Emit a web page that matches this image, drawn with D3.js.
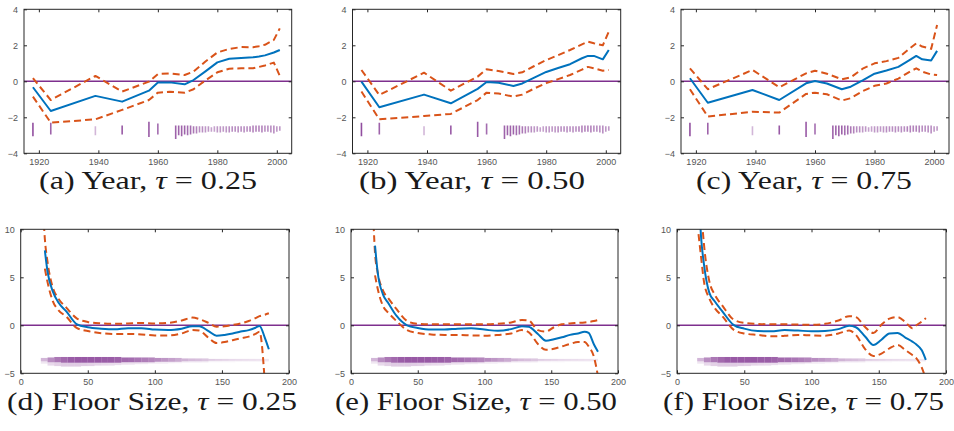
<!DOCTYPE html>
<html>
<head>
<meta charset="utf-8">
<script src="https://cdn.jsdelivr.net/npm/d3@7"></script>
<style>
  body { margin: 0; background: #fff; }
  svg { display: block; }
</style>
</head>
<body>
<div id="fig"></div>
<script>
// ---- data: year panels (a)-(c) ----
const yearX = [1918, 1924, 1939, 1948, 1957, 1960, 1964, 1969, 1972, 1976, 1980, 1984, 1988, 1992, 1994, 1996, 1999, 2001];
const fitA = [-0.33, -1.65, -0.81, -1.13, -0.52, -0.07, -0.06, -0.17, 0.07, 0.55, 1.05, 1.25, 1.3, 1.33, 1.38, 1.44, 1.6, 1.74];
const hiA  = [0.17, -1.04, 0.3, -0.57, -0.02, 0.4, 0.44, 0.35, 0.54, 1.1, 1.6, 1.8, 1.9, 1.89, 1.95, 2.03, 2.3, 2.94];
const loA  = [-0.85, -2.3, -2.11, -1.59, -1.04, -0.63, -0.58, -0.63, -0.44, 0.05, 0.5, 0.7, 0.72, 0.72, 0.8, 0.88, 1.04, 0.3];
const fitB = [-0.02, -1.44, -0.74, -1.22, -0.42, -0.04, -0.08, -0.26, -0.12, 0.2, 0.52, 0.74, 0.95, 1.28, 1.41, 1.41, 1.22, 1.74];
const hiB  = [0.63, -0.76, 0.48, -0.52, 0.26, 0.67, 0.57, 0.41, 0.5, 0.85, 1.18, 1.45, 1.74, 2.05, 2.2, 2.11, 2.0, 2.76];
const loB  = [-0.57, -2.11, -1.93, -1.81, -1.04, -0.63, -0.68, -0.85, -0.74, -0.4, -0.1, 0.12, 0.35, 0.65, 0.8, 0.72, 0.59, 0.63];
const fitC = [0.17, -1.19, -0.48, -1.04, -0.11, 0.02, -0.12, -0.44, -0.3, 0.05, 0.42, 0.6, 0.8, 1.2, 1.41, 1.22, 1.15, 1.69];
const hiC  = [0.72, -0.44, 0.63, -0.33, 0.44, 0.59, 0.42, 0.11, 0.22, 0.7, 1.0, 1.12, 1.3, 1.85, 2.11, 1.93, 1.8, 3.13];
const loC  = [-0.44, -1.96, -1.69, -1.74, -0.7, -0.63, -0.72, -1.07, -0.94, -0.55, -0.25, -0.12, 0.15, 0.55, 0.72, 0.54, 0.38, 0.35];

// rug of observed years
const rugYears  = [1918, 1924, 1939, 1948, 1957, 1960, 1966, 1967, 1968, 1969, 1970, 1971, 1972, 1973, 1974, 1975, 1976, 1977, 1978, 1979, 1980, 1981, 1982, 1983, 1984, 1985, 1986, 1987, 1988, 1989, 1990, 1991, 1992, 1993, 1994, 1995, 1996, 1997, 1998, 1999, 2000, 2001];
const rugTop    = [-2.3, -2.3, -2.5, -2.45, -2.25, -2.35, -2.45, -2.45, -2.45, -2.45, -2.45, -2.45, -2.5, -2.5, -2.5, -2.5, -2.5, -2.5, -2.55, -2.5, -2.5, -2.5, -2.5, -2.5, -2.5, -2.5, -2.5, -2.5, -2.5, -2.5, -2.5, -2.5, -2.45, -2.45, -2.45, -2.45, -2.45, -2.45, -2.45, -2.45, -2.5, -2.5];
const rugBottom = [-3.05, -2.95, -3.0, -2.95, -3.1, -2.95, -3.2, -3.0, -3.05, -2.95, -3.0, -2.95, -2.9, -2.9, -2.85, -2.85, -2.85, -2.8, -2.8, -2.8, -2.85, -2.85, -2.8, -2.85, -2.85, -2.8, -2.8, -2.85, -2.8, -2.85, -2.8, -2.8, -2.85, -2.8, -2.8, -2.85, -2.8, -2.8, -2.85, -2.9, -2.8, -2.75];
const rugAlpha  = [0.85, 0.75, 0.35, 0.8, 0.8, 0.7, 0.75, 0.75, 0.75, 0.75, 0.7, 0.7, 0.65, 0.6, 0.55, 0.55, 0.5, 0.5, 0.45, 0.45, 0.5, 0.5, 0.5, 0.5, 0.55, 0.55, 0.55, 0.55, 0.55, 0.55, 0.55, 0.6, 0.6, 0.6, 0.6, 0.6, 0.55, 0.55, 0.55, 0.55, 0.5, 0.5];

// ---- data: floor size panels (d)-(f) ----
const floorX = [16, 18, 20, 24, 28, 34, 42, 50, 60, 70, 80, 90, 100, 110, 120, 128, 133, 140, 146, 152, 158, 164, 170, 175, 178, 182, 185];
const fitD = [null, 7.8, 5.6, 3.5, 2.4, 1.45, 0.1, -0.2, -0.35, -0.42, -0.3, -0.3, -0.45, -0.5, -0.35, -0.1, -0.1, -0.6, -1.08, -1.0, -0.85, -0.65, -0.5, -0.25, -0.07, -1.3, -2.5];
const hiD  = [14, 9.0, 6.6, 3.9, 2.8, 1.84, 0.7, 0.35, 0.2, 0.15, 0.2, 0.25, 0.2, 0.25, 0.5, 0.8, 0.65, 0.25, -0.14, -0.1, 0.03, 0.2, 0.45, 0.75, 0.95, 1.1, 1.25];
const loD  = [null, 5.9, 4.5, 2.5, 1.6, 0.9, -0.3, -0.6, -0.83, -0.9, -0.9, -0.95, -1.05, -1.05, -0.85, -0.5, -0.55, -1.3, -1.85, -1.75, -1.55, -1.35, -1.18, -0.9, -0.66, -6, null];
const fitE = [null, 8.3, 5.5, 3.2, 2.3, 1.0, 0.0, -0.28, -0.45, -0.45, -0.35, -0.32, -0.45, -0.58, -0.4, -0.1, -0.15, -0.9, -1.6, -1.45, -1.25, -1.0, -0.85, -0.68, -0.8, -2.0, -2.75];
const hiE  = [14, 7.5, 5.5, 3.6, 2.8, 1.7, 0.45, 0.15, 0.1, 0.1, 0.1, 0.1, 0.1, 0.15, 0.3, 0.55, 0.5, -0.5, -0.65, -0.2, 0.1, 0.2, 0.25, 0.3, 0.35, 0.45, 0.55];
const loE  = [null, 5.2, 3.8, 2.0, 1.3, 0.45, -0.5, -0.8, -0.95, -1.0, -1.0, -1.05, -1.08, -1.0, -0.85, -0.5, -0.7, -1.95, -2.55, -2.45, -2.2, -1.95, -1.75, -1.75, -2.2, -3.3, -5.3];
const fitF = [14, 9.0, 6.4, 3.4, 2.5, 1.4, 0.05, -0.35, -0.6, -0.63, -0.5, -0.55, -0.62, -0.6, -0.4, -0.05, -0.2, -1.2, -2.05, -1.5, -0.85, -0.8, -1.3, -1.7, -2.0, -2.6, -3.6];
const hiF  = [null, 12, 8.5, 4.6, 3.2, 2.0, 0.6, 0.25, 0.15, 0.1, 0.1, 0.08, 0.05, 0.15, 0.5, 0.95, 0.85, -0.2, -0.8, 0.05, 0.7, 0.85, 0.3, -0.3, 0.0, 0.4, 0.75];
const loF  = [9.5, 7.0, 4.6, 2.8, 1.8, 0.9, -0.45, -0.85, -1.0, -1.15, -1.1, -1.0, -1.05, -1.08, -0.85, -0.55, -1.0, -2.5, -3.2, -2.95, -2.4, -2.05, -2.6, -3.1, -3.45, -4.4, -5.6];

// rug of observed floor sizes (segments of 5 m2): dense core and faint spread
const floorRugX      = [15, 20, 25, 30, 35, 40, 45, 50, 55, 60, 65, 70, 75, 80, 85, 90, 95, 100, 105, 110, 115, 120, 125, 130, 135, 140, 145, 150, 155, 160, 165, 170, 175, 180];
const floorRugLo     = [-3.75, -3.85, -3.85, -3.9, -3.9, -3.9, -3.9, -3.9, -3.9, -3.9, -3.9, -3.9, -3.85, -3.85, -3.85, -3.85, -3.85, -3.8, -3.8, -3.8, -3.8, -3.75, -3.75, -3.75, -3.75, -3.7, -3.7, -3.7, -3.7, -3.7, -3.7, -3.7, -3.7, -3.7];
const floorRugHi     = [-3.4, -3.35, -3.3, -3.3, -3.3, -3.3, -3.3, -3.3, -3.3, -3.3, -3.3, -3.3, -3.35, -3.35, -3.35, -3.35, -3.35, -3.4, -3.4, -3.4, -3.4, -3.45, -3.45, -3.45, -3.45, -3.5, -3.5, -3.5, -3.5, -3.5, -3.5, -3.5, -3.5, -3.5];
const floorRugAlpha  = [0.35, 0.55, 0.65, 0.72, 0.78, 0.8, 0.8, 0.8, 0.8, 0.78, 0.78, 0.75, 0.72, 0.7, 0.66, 0.62, 0.58, 0.55, 0.5, 0.45, 0.4, 0.36, 0.32, 0.3, 0.27, 0.24, 0.22, 0.2, 0.18, 0.17, 0.16, 0.15, 0.14, 0.12];
const floorRugTailLo = [-4.0, -4.2, -4.25, -4.3, -4.3, -4.3, -4.25, -4.25, -4.2, -4.2, -4.2, -4.15, -4.1, -4.1, -4.05, -4.05, -4.0, -4.0, -4.0, -3.95, -3.95, -3.9, -3.9, -3.9, -3.9, -3.85, -3.85, -3.85, -3.85, -3.8, -3.8, -3.8, -3.8, -3.8];
const floorRugTailAlpha = [0.12, 0.18, 0.22, 0.25, 0.25, 0.25, 0.24, 0.22, 0.2, 0.18, 0.17, 0.16, 0.15, 0.14, 0.13, 0.12, 0.11, 0.1, 0.09, 0.09, 0.08, 0.08, 0.07, 0.07, 0.06, 0.06, 0.06, 0.05, 0.05, 0.05, 0.05, 0.05, 0.05, 0.05];

// ticks and captions
const yearTicks  = [1920, 1940, 1960, 1980, 2000];
const yearYTicks = [-4, -2, 0, 2, 4];
const floorTicks  = [0, 50, 100, 150, 200];
const floorYTicks = [-5, 0, 5, 10];
const captionLetters = ["(a)", "(b)", "(c)", "(d)", "(e)", "(f)"];
const captionVars    = ["Year", "Year", "Year", "Floor Size", "Floor Size", "Floor Size"];
const captionTaus    = ["0.25", "0.50", "0.75", "0.25", "0.50", "0.75"];

// colours (MATLAB defaults)
const blue = "#0072BD", orange = "#D95319", purple = "#7E2F8E";

const width = 954, height = 431;

const svg = d3.select("#fig").append("svg")
    .attr("width", width)
    .attr("height", height);

// panel frames and caption boxes
const layout = [
    {x0: 24,  x1: 291.7, y0: 9.3,   y1: 153.3, cx0: 39,  cx1: 257, cy: 189},
    {x0: 352.5, x1: 620.7, y0: 9.3, y1: 153.3, cx0: 359, cx1: 585, cy: 189},
    {x0: 681, x1: 949,   y0: 9.3,   y1: 153.3, cx0: 696, cx1: 912, cy: 189},
    {x0: 20.7, x1: 289,  y0: 229.3, y1: 373.3, cx0: 7,   cx1: 297, cy: 410},
    {x0: 351, x1: 618,   y0: 229.3, y1: 373.3, cx0: 335, cx1: 617, cy: 410},
    {x0: 677, x1: 946,   y0: 229.3, y1: 373.3, cx0: 663, cx1: 944, cy: 410}
];

const series = [
    {fit: fitA, hi: hiA, lo: loA},
    {fit: fitB, hi: hiB, lo: loB},
    {fit: fitC, hi: hiC, lo: loC},
    {fit: fitD, hi: hiD, lo: loD},
    {fit: fitE, hi: hiE, lo: loE},
    {fit: fitF, hi: hiF, lo: loF}
];

series.forEach(function (s, i) {
    const L = layout[i];
    const isYear = i < 3;
    const xs = isYear ? yearX : floorX;

    const x = d3.scaleLinear()
        .domain(isYear ? [1915, 2005] : [0, 200])
        .range([L.x0, L.x1]);
    const y = d3.scaleLinear()
        .domain(isYear ? [-4, 4] : [-5, 10])
        .range([L.y1, L.y0]);

    const g = svg.append("g");

    svg.append("clipPath")
        .attr("id", "clip" + i)
        .append("rect")
        .attr("x", L.x0).attr("y", L.y0)
        .attr("width", L.x1 - L.x0).attr("height", L.y1 - L.y0);

    const plot = g.append("g").attr("clip-path", "url(#clip" + i + ")");

    // rug of observations
    if (isYear) {
        plot.selectAll("line.rug")
            .data(rugYears)
            .join("line")
            .attr("x1", d => x(d)).attr("x2", d => x(d))
            .attr("y1", (d, k) => y(rugTop[k]))
            .attr("y2", (d, k) => y(rugBottom[k]))
            .attr("stroke", purple)
            .attr("stroke-width", 1.6)
            .attr("stroke-opacity", (d, k) => rugAlpha[k]);
    } else {
        plot.selectAll("rect.tail")
            .data(floorRugX)
            .join("rect")
            .attr("x", d => x(d))
            .attr("width", d => x(d + 5) - x(d))
            .attr("y", (d, k) => y(floorRugLo[k]))
            .attr("height", (d, k) => y(floorRugTailLo[k]) - y(floorRugLo[k]))
            .attr("fill", purple)
            .attr("fill-opacity", (d, k) => floorRugTailAlpha[k]);
        plot.selectAll("rect.core")
            .data(floorRugX)
            .join("rect")
            .attr("x", d => x(d))
            .attr("width", d => x(d + 5) - x(d))
            .attr("y", (d, k) => y(floorRugHi[k]))
            .attr("height", (d, k) => y(floorRugLo[k]) - y(floorRugHi[k]))
            .attr("fill", purple)
            .attr("fill-opacity", (d, k) => floorRugAlpha[k]);
    }

    // zero line
    plot.append("line")
        .attr("x1", L.x0).attr("x2", L.x1)
        .attr("y1", y(0)).attr("y2", y(0))
        .attr("stroke", purple)
        .attr("stroke-width", 1.5);

    const line = function (vals) {
        return d3.line()
            .defined((d, k) => vals[k] !== null)
            .x(d => x(d))
            .y((d, k) => y(vals[k]))
            .curve(isYear ? d3.curveLinear : d3.curveMonotoneX)(xs);
    };

    [s.hi, s.lo].forEach(function (vals) {
        plot.append("path")
            .attr("d", line(vals))
            .attr("fill", "none")
            .attr("stroke", orange)
            .attr("stroke-width", 2)
            .attr("stroke-linejoin", "round")
            .attr("stroke-dasharray", "7,4");
    });

    plot.append("path")
        .attr("d", line(s.fit))
        .attr("fill", "none")
        .attr("stroke", blue)
        .attr("stroke-linejoin", "round")
        .attr("stroke-width", 2);

    // axes, MATLAB style box with inward ticks
    const xt = isYear ? yearTicks : floorTicks;
    const yt = isYear ? yearYTicks : floorYTicks;
    const tickLen = 3;

    g.append("g")
        .attr("transform", "translate(0," + L.y1 + ")")
        .call(d3.axisBottom(x).tickValues(xt).tickFormat(d3.format("d")).tickSizeInner(-tickLen).tickSizeOuter(0).tickPadding(5))
        .call(a => a.select(".domain").remove());
    g.append("g")
        .attr("transform", "translate(0," + L.y0 + ")")
        .call(d3.axisTop(x).tickValues(xt).tickSizeInner(-tickLen).tickSizeOuter(0).tickFormat(""))
        .call(a => a.select(".domain").remove());
    g.append("g")
        .attr("transform", "translate(" + L.x0 + ",0)")
        .call(d3.axisLeft(y).tickValues(yt).tickFormat(d3.format("d")).tickSizeInner(-tickLen).tickSizeOuter(0).tickPadding(6))
        .call(a => a.select(".domain").remove());
    g.append("g")
        .attr("transform", "translate(" + L.x1 + ",0)")
        .call(d3.axisRight(y).tickValues(yt).tickSizeInner(-tickLen).tickSizeOuter(0).tickFormat(""))
        .call(a => a.select(".domain").remove());

    g.selectAll(".tick line").attr("stroke", "#262626");
    g.selectAll(".tick text")
        .attr("fill", "#555")
        .style("font-family", "'Liberation Sans', Arial, sans-serif")
        .style("font-size", "9px");

    g.append("rect")
        .attr("x", L.x0).attr("y", L.y0)
        .attr("width", L.x1 - L.x0).attr("height", L.y1 - L.y0)
        .attr("fill", "none")
        .attr("stroke", "#262626")
        .attr("stroke-width", 1);

    // caption
    const cap = svg.append("text")
        .attr("x", L.cx0)
        .attr("y", L.cy)
        .attr("textLength", L.cx1 - L.cx0)
        .attr("lengthAdjust", "spacingAndGlyphs")
        .style("font-family", "'Liberation Serif', 'DejaVu Serif', serif")
        .style("font-size", "25px")
        .attr("fill", "#1a1a1a");
    cap.append("tspan").text(captionLetters[i] + " " + captionVars[i] + ", ");
    cap.append("tspan").style("font-style", "italic").text("τ");
    cap.append("tspan").text(" = " + captionTaus[i]);
});
</script>
</body>
</html>
